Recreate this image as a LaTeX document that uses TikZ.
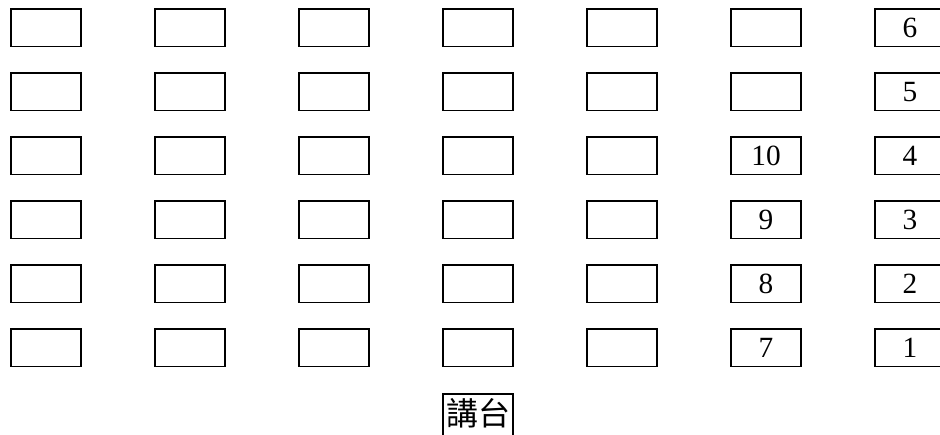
\documentclass[tikz,border=0pt]{standalone}
\usepackage{fontspec}
\setmainfont{Liberation Serif}
\newfontfamily\cjkfont{Noto Sans CJK TC}
\usetikzlibrary{positioning}

\tikzset{
  seat/.style={draw, line width=1.2pt, minimum width=52.9pt, minimum height=28.1pt,
    inner sep=0pt, font=\fontsize{22}{26}\selectfont},
  podium/.style={draw, line width=1.2pt, minimum width=52.9pt, inner xsep=0pt,
    inner ysep=3pt, text depth=30pt, font=\cjkfont\fontsize{24}{28}\selectfont}
}

\begin{document}
\begin{tikzpicture}[x=0.75pt,y=-0.75pt]
  \useasboundingbox (0,0) rectangle (940,435);
  \clip (0,0) rectangle (940,435);

  % empty seats
  \foreach \c in {1,...,5}
    \foreach \r in {1,...,6}
      \node[seat] (s\c-\r) at ({46+144*(\c-1)},{27.75+64*(\r-1)}) {};
  \node[seat] (s6-1) at (766,27.75) {};
  \node[seat] (s6-2) at (766,91.75) {};

  % numbered seats
  \node[seat] (s6-3) at (766,155.75) {10};
  \node[seat] (s6-4) at (766,219.75) {9};
  \node[seat] (s6-5) at (766,283.75) {8};
  \node[seat] (s6-6) at (766,347.75) {7};
  \node[seat] (s7-1) at (910,27.75)  {6};
  \node[seat] (s7-2) at (910,91.75)  {5};
  \node[seat] (s7-3) at (910,155.75) {4};
  \node[seat] (s7-4) at (910,219.75) {3};
  \node[seat] (s7-5) at (910,283.75) {2};
  \node[seat] (s7-6) at (910,347.75) {1};

  \node[podium, anchor=north] (podium) at (478,393.4) {講台};
\end{tikzpicture}
\end{document}
